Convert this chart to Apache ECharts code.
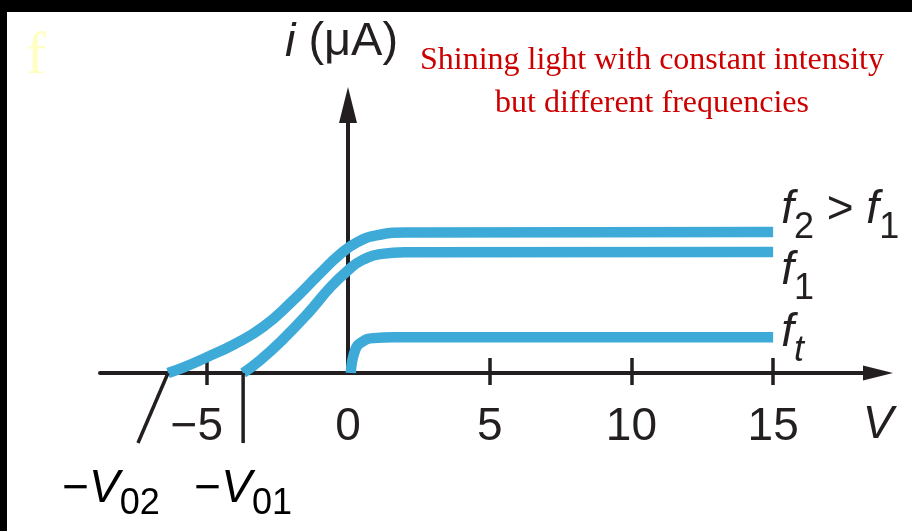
<!DOCTYPE html>
<html>
<head>
<meta charset="utf-8">
<script src="https://cdn.jsdelivr.net/npm/echarts@6/dist/echarts.min.js"></script>
<style>
  html, body { margin: 0; padding: 0; background: #fff; }
  #chart { width: 912px; height: 531px; }
</style>
</head>
<body>
<div id="chart"></div>
<script>
// Photocurrent i (µA) against applied voltage V for light of equal intensity
// but three different frequencies (threshold f_t, f_1 and f_2 > f_1).

const tickLabels = [-5, 0, 5, 10, 15];
const tickMarks = [-5, 5, 10, 15];

const f2Voltage = [-6.35, -5.8, -5.0, -4.0, -3.0, -2.0, -1.0, -0.3, 0.3, 1.0, 2.0, 15];
const f2Current = [0, 0.2, 0.55, 1.02, 1.62, 2.5, 3.5, 4.17, 4.6, 4.85, 4.95, 4.97];

const f1Voltage = [-3.7, -3.1, -2.3, -1.4, -0.6, 0, 0.5, 1.2, 2.0, 15];
const f1Current = [0, 0.45, 1.18, 2.12, 3.05, 3.62, 3.98, 4.2, 4.26, 4.27];

const ftVoltage = [0.1, 0.25, 0.5, 0.9, 1.6, 15];
const ftCurrent = [0, 0.8, 1.1, 1.23, 1.26, 1.26];

// stopping potentials: -V02 (for f2) and -V01 (for f1)
const stoppingPotentials = [-6.35, -3.7];
const stoppingLabels = ['02', '01'];

const INK = '#231f20';
const BLUE = '#3eaad8';
const SANS = '"Liberation Sans", Arial, Helvetica, sans-serif';
const SERIF = '"Liberation Serif", "Times New Roman", serif';

const X_MIN = -8.75, X_MAX = 18.7;

const chart = echarts.init(document.getElementById('chart'), null, { renderer: 'canvas' });

function pairs(xs, ys) {
  return xs.map((x, k) => [x, ys[k]]);
}

const labelRich = {
  f: { fontFamily: SANS, fontStyle: 'italic', fontSize: 46, color: INK },
  s: { fontFamily: SANS, fontSize: 36, color: INK, padding: [36, 0, 0, 0] },
  st: { fontFamily: SANS, fontStyle: 'italic', fontSize: 36, color: INK, padding: [36, 0, 0, 0] },
  o: { fontFamily: SANS, fontSize: 46, color: INK }
};

function curve(name, xs, ys, text, pad) {
  return {
    name: name,
    type: 'line',
    data: pairs(xs, ys),
    smooth: 0.5,
    showSymbol: false,
    symbol: 'none',
    clip: false,
    silent: true,
    lineStyle: { color: BLUE, width: 10.5, cap: 'butt' },
    endLabel: {
      show: true,
      distance: 8,
      padding: pad,
      formatter: () => text,
      rich: labelRich
    }
  };
}

const axisStroke = { color: INK, width: 4 };
const tickStroke = { color: INK, width: 3.5 };

chart.setOption({
  animation: false,
  backgroundColor: '#fff',
  grid: { left: 100, right: 34, top: 105, bottom: 158, containLabel: false },
  xAxis: [
    {
      type: 'value',
      min: X_MIN,
      max: X_MAX,
      position: 'bottom',
      axisLine: {
        show: true, onZero: true,
        symbol: ['none', 'triangle'], symbolSize: [15, 30],
        lineStyle: axisStroke
      },
      axisTick: { show: true, length: 12, customValues: tickMarks, lineStyle: tickStroke },
      axisLabel: {
        show: true,
        customValues: tickLabels,
        margin: 31,
        fontSize: 46,
        fontFamily: SANS,
        color: INK,
        formatter: v => (v < 0 ? '{neg|\u2212' + Math.abs(v) + '}' : String(v)),
        rich: { neg: { fontSize: 46, fontFamily: SANS, color: INK, padding: [0, 19, 0, 0] } }
      },
      splitLine: { show: false }
    },
    {
      // upward half of the tick marks
      type: 'value',
      min: X_MIN,
      max: X_MAX,
      position: 'bottom',
      axisLine: { show: false, onZero: false },
      axisTick: { show: true, inside: true, length: 15, customValues: tickMarks, lineStyle: tickStroke },
      axisLabel: { show: false },
      splitLine: { show: false }
    }
  ],
  yAxis: {
    type: 'value',
    min: 0,
    max: 9.45,
    axisLine: {
      show: true, onZero: true,
      symbol: ['none', 'triangle'], symbolSize: [18, 36],
      lineStyle: axisStroke
    },
    axisTick: { show: false },
    axisLabel: { show: false },
    splitLine: { show: false },
    name: '{i|i} (\u03bcA)',
    nameLocation: 'end',
    nameGap: 39,
    nameTextStyle: {
      fontFamily: SANS, fontSize: 47, color: INK,
      padding: [0, 13, 0, 0],
      rich: { i: { fontFamily: SANS, fontStyle: 'italic', fontSize: 47, color: INK } }
    }
  },
  series: [
    curve('f2', f2Voltage, f2Current, '{f|f}{s|2}{o| > }{f|f}{s|1}', [0, 0, 44, 0]),
    curve('f1', f1Voltage, f1Current, '{f|f}{s|1}', [38, 0, 0, 0]),
    curve('ft', ftVoltage, ftCurrent, '{f|f}{st|t}', [0, 0, 8, 0])
  ]
});

// Stopping-potential markers below the voltage axis
const toPx = (v, i) => chart.convertToPixel({ xAxisIndex: 0, yAxisIndex: 0 }, [v, i]);
const tailDepth = -2.47;   // marker length below the axis, in current units
const slashRun = -1.06;    // horizontal lean of the -V02 marker, in volts
const labelDepth = -4.1;

const v02Top = toPx(stoppingPotentials[0], 0);
const v02Foot = toPx(stoppingPotentials[0] + slashRun, tailDepth);
const v01Top = toPx(stoppingPotentials[1], 0);
const v01Foot = toPx(stoppingPotentials[1], tailDepth);
const labelY = toPx(0, labelDepth)[1];
const axisEnd = toPx(X_MAX, 0);

const vRich = {
  m: { fontFamily: SANS, fontSize: 46, color: INK },
  v: { fontFamily: SANS, fontStyle: 'italic', fontSize: 46, color: INK },
  s: { fontFamily: SANS, fontSize: 36, color: INK, padding: [30, 0, 0, 0] }
};

chart.setOption({
  graphic: [
    { type: 'rect', z: 100, silent: true, shape: { x: 0, y: 0, width: 912, height: 12 }, style: { fill: '#000' } },
    { type: 'rect', z: 100, silent: true, shape: { x: 0, y: 0, width: 7, height: 531 }, style: { fill: '#000' } },
    {
      type: 'text', z: 100, silent: true, x: 26, y: 57,
      style: { text: 'f', font: '60px ' + SERIF, fill: '#ffffc4', align: 'left', verticalAlign: 'middle' }
    },
    {
      type: 'text', z: 100, silent: true, x: 652, y: 39,
      style: {
        text: 'Shining light with constant intensity\nbut different frequencies',
        font: '32px ' + SERIF, fill: '#cc0000', align: 'center', verticalAlign: 'top', lineHeight: 43
      }
    },
    {
      // voltage axis title, under the arrow head
      type: 'text', z: 100, silent: true, x: axisEnd[0], y: axisEnd[1] + 52,
      style: { text: 'V', font: 'italic 46px ' + SANS, fill: INK, align: 'center', verticalAlign: 'middle' }
    },
    {
      type: 'line', z: 100, silent: true,
      shape: { x1: v02Top[0], y1: v02Top[1], x2: v02Foot[0], y2: v02Foot[1] },
      style: { stroke: INK, lineWidth: 3.5 }
    },
    {
      type: 'line', z: 100, silent: true,
      shape: { x1: v01Top[0], y1: v01Top[1], x2: v01Foot[0], y2: v01Foot[1] },
      style: { stroke: INK, lineWidth: 3.5 }
    },
    {
      type: 'text', z: 100, silent: true, x: v02Foot[0] - 27, y: labelY,
      style: { text: '{m|\u2212}{v|V}{s|' + stoppingLabels[0] + '}', rich: vRich, align: 'center', verticalAlign: 'middle' }
    },
    {
      type: 'text', z: 100, silent: true, x: v01Foot[0], y: labelY,
      style: { text: '{m|\u2212}{v|V}{s|' + stoppingLabels[1] + '}', rich: vRich, align: 'center', verticalAlign: 'middle' }
    }
  ]
});
</script>
</body>
</html>
